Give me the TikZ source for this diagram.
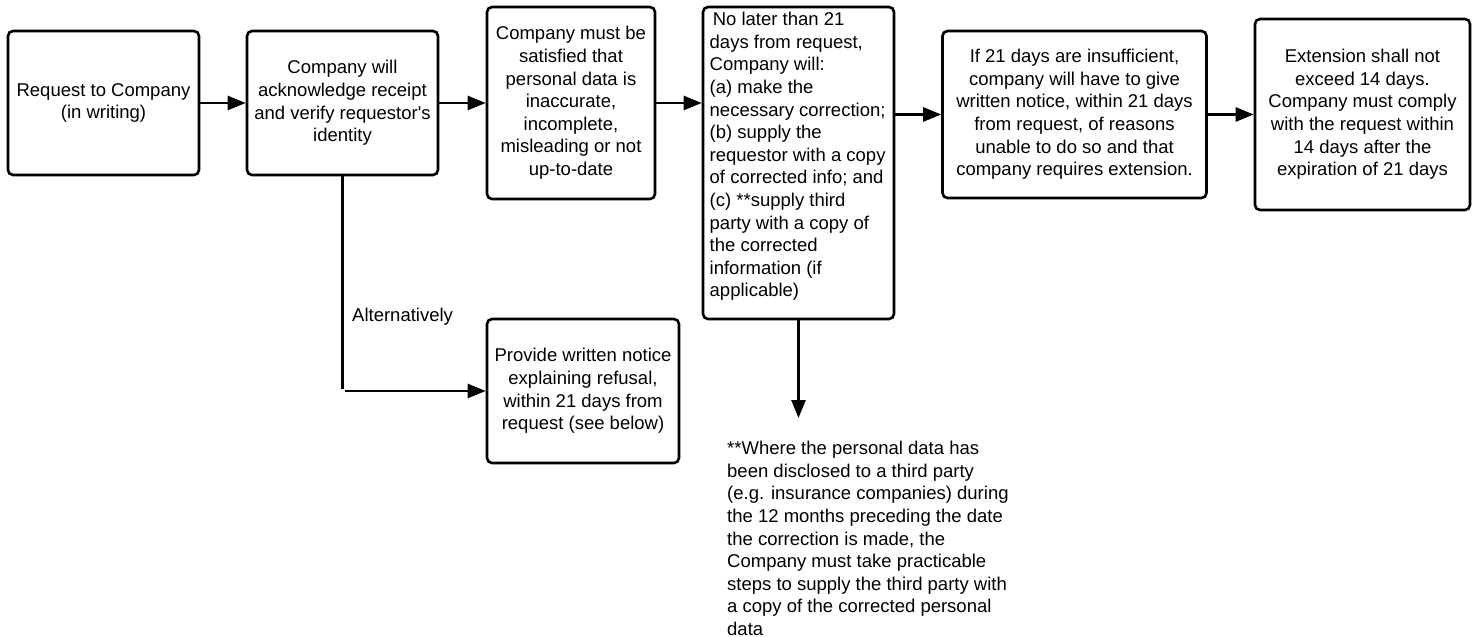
\documentclass[tikz,border=0pt]{standalone}
\usepackage{fontspec}
\setmainfont{Liberation Sans}
\usetikzlibrary{arrows.meta}
\begin{document}
\begin{tikzpicture}[x=1pt,y=-1pt,
  txt/.style={font=\fontsize{18.5}{22.6}\selectfont},
  box/.style={txt,draw=black,line width=2.6pt,rounded corners=5pt,inner sep=0pt,align=center,fill=white},
  conn/.style={line width=2.6pt,-{Triangle[length=18pt,width=14pt]}},
  plain/.style={line width=2.6pt}]
\useasboundingbox[fill=white] (0,0) rectangle (1478,637);
\node[box,minimum width=191pt,minimum height=144pt] (b1) at (103.5,103) {Request to Company\\(in writing)};
\node[box,minimum width=191pt,minimum height=144pt] (b2) at (342.5,103) {Company will\\acknowledge receipt\\and verify requestor\textquotesingle s\\identity};
\node[box,minimum width=168pt,minimum height=192pt] (b3) at (571,103) {Company must be\\satisfied that\\personal data is\\inaccurate,\\incomplete,\\misleading or not\\up-to-date};
\node[box,minimum width=191pt,minimum height=312pt] (b4) at (798.5,163) {};
\node[txt,anchor=north west,inner sep=0pt,align=left] (b4t) at (709.5,12) {\,No later than 21\\days from request,\\Company will:\\(a) make the\\necessary correction;\\(b) supply the\\requestor with a copy\\of corrected info; and\\(c) **supply third\\party with a copy of\\the corrected\\information (if\\applicable)};
\node[box,minimum width=264pt,minimum height=167pt] (b5) at (1074.5,114.5) {If 21 days are insufficient,\\company will have to give\\written notice, within 21 days\\from request, of reasons\\unable to do so and that\\company requires extension.};
\node[box,minimum width=215pt,minimum height=191pt] (b6) at (1362.5,114.5) {Extension shall not\\exceed 14 days.\\Company must comply\\with the request within\\14 days after the\\expiration of 21 days};
\node[box,minimum width=192pt,minimum height=144pt] (b7) at (583,391) {Provide written notice\\explaining refusal,\\within 21 days from\\request (see below)};
\node[txt,anchor=west,inner sep=0pt] (alt) at (352,317) {Alternatively};
\node[txt,anchor=north west,inner sep=0pt,align=left] (note) at (727,441) {**Where the personal data has\\been disclosed to a third party\\(e.g. insurance companies) during\\the 12 months preceding the date\\the correction is made, the\\Company must take practicable\\steps to supply the third party with\\a copy of the corrected personal\\data};
\coordinate (altend) at (342.5,389);
\coordinate (altstart) at (345,391);
\coordinate (fnend) at (798.5,418);
\draw[conn] (b1) -- (b2);
\draw[conn] (b2) -- (b3);
\draw[conn] (b3.east) -- (b3.east -| b4.west);
\draw[conn] (b4.east |- b5.west) -- (b5.west);
\draw[conn] (b5) -- (b6);
\draw[plain] (b2.south) -- (altend);
\draw[conn] (altstart) -- (altstart -| b7.west);
\draw[conn] (b4.south) -- (fnend);
\end{tikzpicture}
\end{document}
